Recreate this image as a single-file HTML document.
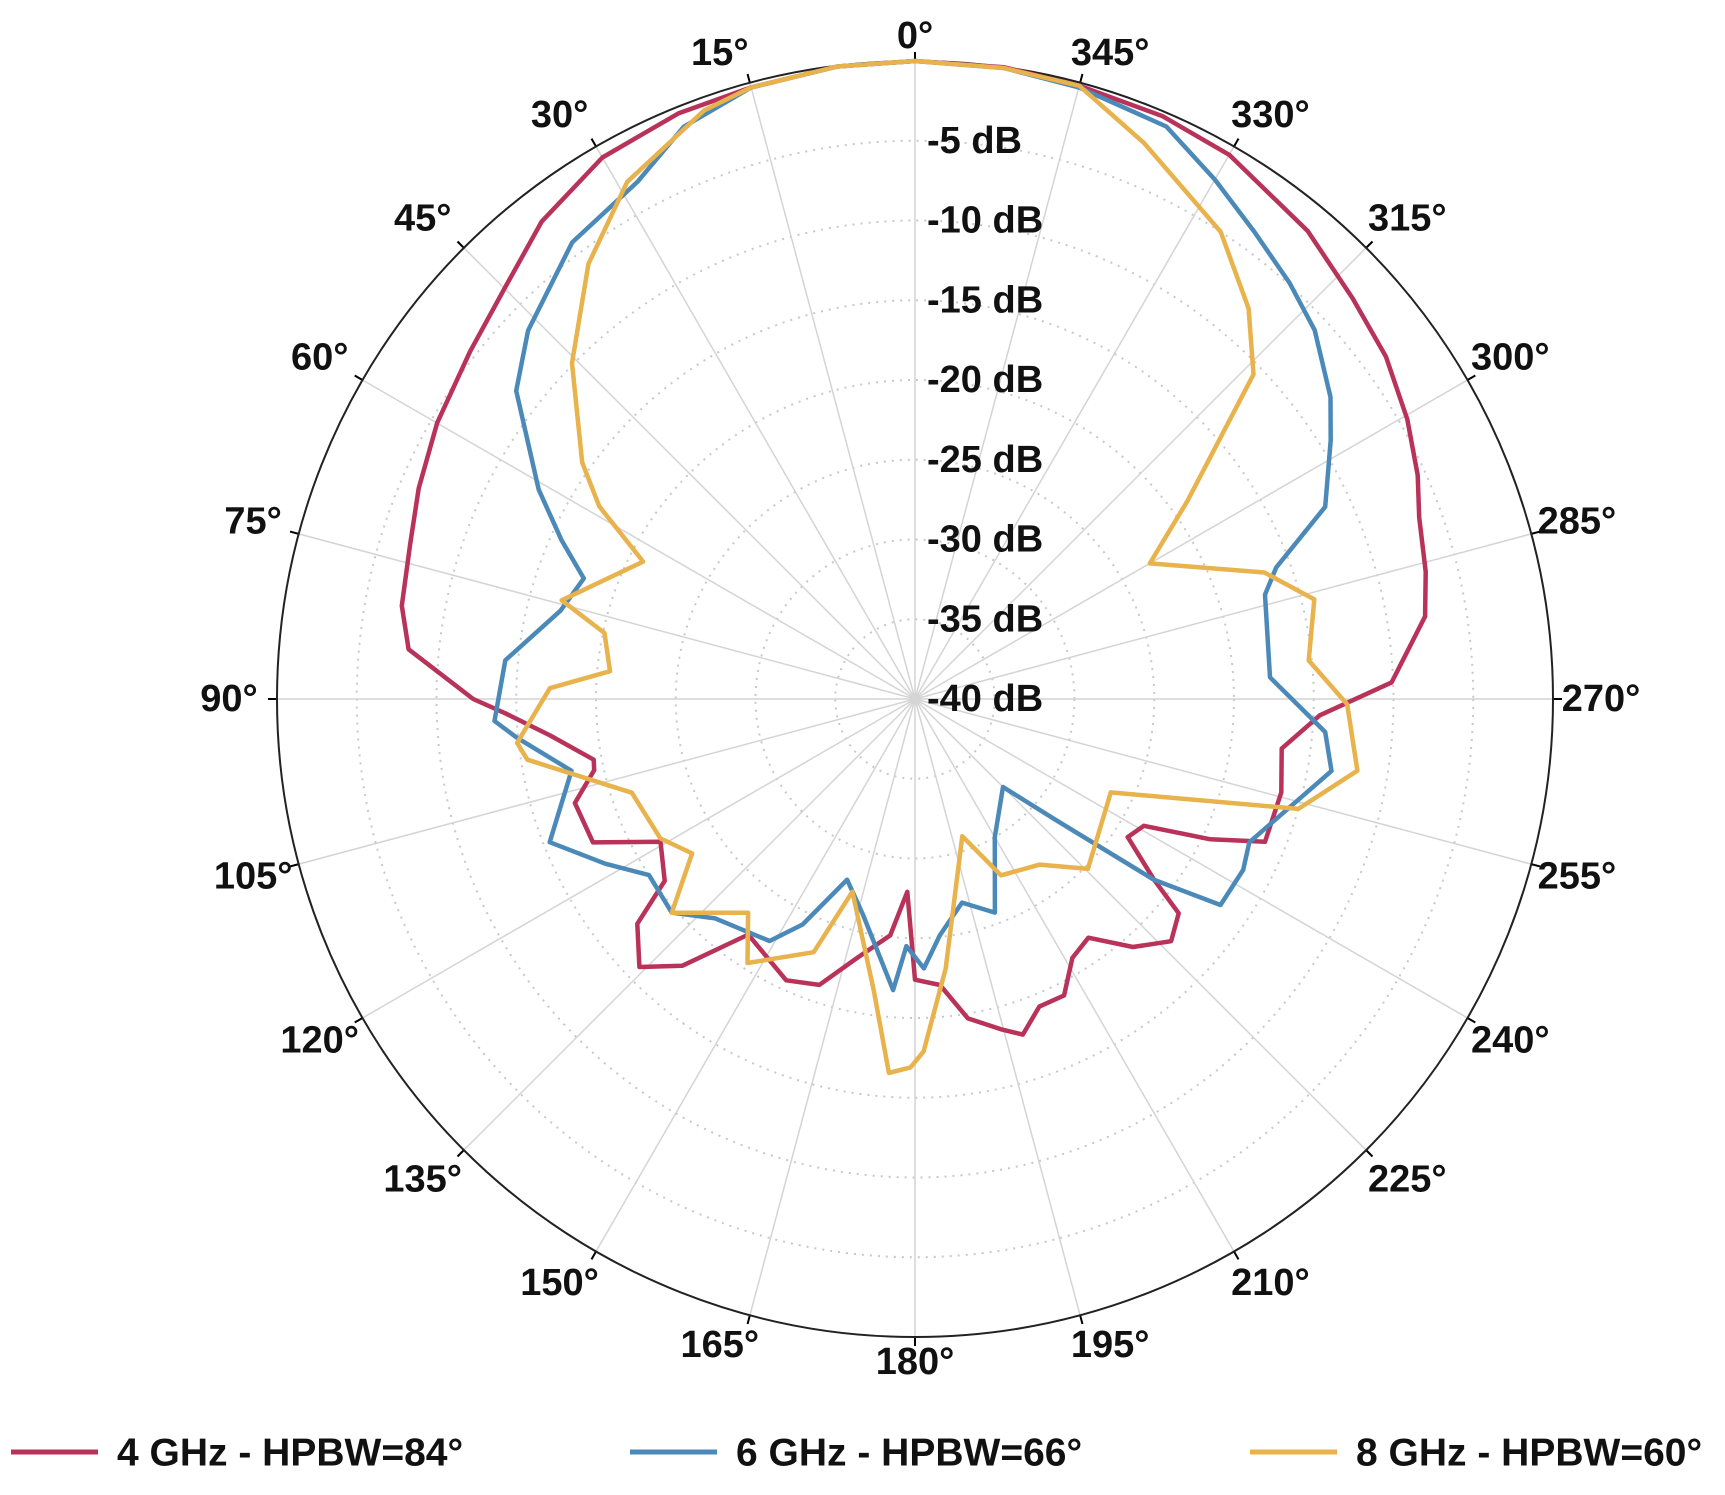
<!DOCTYPE html>
<html><head><meta charset="utf-8"><style>
body{margin:0;background:#fff;}
svg{display:block;font-family:"Liberation Sans",Arial,sans-serif;font-weight:bold;}
</style></head><body>
<svg id="chart" width="1725" height="1495" viewBox="0 0 1725 1495">
<g id="grid"></g>
<g id="series"></g>
<g id="labels"></g>
<g id="legend"></g>
</svg>
<script>
const rTicks = [-5,-10,-15,-20,-25,-30,-35,-40];
const rTickLabels = ["-5 dB","-10 dB","-15 dB","-20 dB","-25 dB","-30 dB","-35 dB","-40 dB"];
const angTicks = [0,15,30,45,60,75,90,105,120,135,150,165,180,195,210,225,240,255,270,285,300,315,330,345];
const seriesNames = ["4 GHz - HPBW=84°","6 GHz - HPBW=66°","8 GHz - HPBW=60°"];
const ang4 = [0,7,15,22,30,38,45,52,60,67,73,79.7,84.4,90,92,95.7,100.7,102.5,107,114,119.3,126,129,134.2,138.9,144.7,155.4,161.5,167.5,174,177.7,180,185,189.4,194.6,197.8,202,206.7,211.3,216,221.3,226.6,230.9,232.9,237,241,244.6,247.8,255.7,262.3,267.7,272,279.2,284,289.8,294,299.6,306,312.5,320,330,337,345,352,360];
const db4 = [0,-0.05,-0.3,-0.4,-0.8,-2,-3.6,-4.6,-5.4,-6.2,-6.9,-7.3,-8.1,-12.3,-14.3,-17,-19.5,-19.4,-17.7,-17.9,-21.7,-20.6,-17.6,-15.9,-17.8,-21.9,-20.6,-21.1,-23.4,-25.1,-27.9,-22.4,-22,-19.7,-18.6,-17.9,-19.2,-19.2,-21,-21.5,-19.3,-17.9,-18.7,-21.2,-24.1,-23.6,-19.5,-16.3,-16.3,-16.8,-14.6,-10.1,-7.6,-7,-6.4,-5.5,-4.5,-3.5,-2.8,-1.7,-0.6,-0.3,-0.2,0,0];
const ang6 = [0,7,15,22,28.2,36.9,46.4,52.3,60.9,65.8,70,76,84.6,93,95.5,101.8,111.4,118,123.5,131.3,137.7,149,153.5,159.4,166.4,175.7,178,181.9,186,193,200.5,210,225,229.3,232.9,236,242.5,246.8,260.2,265.4,273.5,286.6,290,295.1,301.9,306,312.7,318,324,330,336.3,345,352,360];
const db6 = [0,-0.05,-0.3,-1.3,-3.2,-4.2,-6.5,-8.4,-13,-15.7,-17.9,-17.1,-14.2,-13.6,-14.9,-18,-15.4,-18,-20,-19.7,-21.4,-22.3,-24.2,-27.9,-26.1,-21.7,-24.5,-23.1,-25.1,-26.9,-25.7,-30,-32.2,-28.4,-21.2,-16.9,-16.8,-17.2,-13.5,-14.2,-17.7,-17.1,-15.9,-11.6,-9.3,-7.8,-5.9,-4.9,-3.8,-2.4,-0.8,-0.3,-0.05,0];
const ang8 = [0,7,15,19.7,29.1,36.9,45.6,54.6,58.6,63.2,74.4,78,84.8,88.3,96.3,98.9,108.3,118.7,124.7,131.3,142,147.6,158.2,162,172,176,179.3,181.4,186.5,199,206,217,225.5,244.5,254,260.8,269.3,275.6,284,289.9,300,306,313.8,319.5,326.8,337.6,345,352,360];
const db8 = [0,-0.05,-0.3,-0.8,-2.9,-5.9,-9.9,-14.4,-16.8,-20.9,-17,-20.1,-20.8,-17.1,-14.9,-15.4,-21.3,-21.8,-23,-19.7,-23,-20.4,-22.9,-27.3,-21.5,-16.5,-16.9,-17.9,-23,-30.9,-27.7,-27,-24.8,-26.4,-15,-11.9,-12.9,-15.2,-14.2,-16.7,-23,-18.9,-10.6,-7.8,-5,-2.3,-0.2,-0.05,0];

const NS="http://www.w3.org/2000/svg";
const cx=915, cy=699, R=638;
function rScale(db){return (db+40)/40*R;}
function pt(a,db){const r=rScale(db),t=a*Math.PI/180;return [cx-r*Math.sin(t), cy-r*Math.cos(t)];}
function mk(tag,attrs,parent){const e=document.createElementNS(NS,tag);for(const k in attrs)e.setAttribute(k,attrs[k]);parent.appendChild(e);return e;}
const grid=document.getElementById('grid'), labels=document.getElementById('labels'), series=document.getElementById('series'), legend=document.getElementById('legend');

rTicks.forEach((d,i)=>{ if(d<=-40) return;
  const c=mk('circle',{cx:cx,cy:cy,r:rScale(d),fill:'none',stroke:'#c8c8c8','stroke-width':2,'stroke-dasharray':'2 6'},grid);
  
  
});
angTicks.forEach(a=>{
  const p=pt(a,0);
  const l=mk('line',{x1:cx,y1:cy,x2:p[0],y2:p[1],stroke:'#d4d4d4','stroke-width':1.5},grid);
  
  
  const t=a*Math.PI/180, s=Math.sin(t), co=Math.cos(t);
  const tk=mk('line',{x1:cx-R*s,y1:cy-R*co,x2:cx-(R+9)*s,y2:cy-(R+9)*co,stroke:'#000','stroke-width':2},grid);
  
  
  const off=R+25+23*Math.abs(s);
  const sg=Math.abs(s)<1e-6?0:Math.sign(s);
  const extra=sg*Math.max(0,Math.abs(co)-0.4)*39;
  const tx=mk('text',{x:cx-off*s-extra,y:cy-off*co,'text-anchor':'middle','dominant-baseline':'central','font-size':38,fill:'#111'},labels);
  tx.textContent=a+'°';
  
  
});
const oc=mk('circle',{cx:cx,cy:cy,r:R,fill:'none',stroke:'#222','stroke-width':2},grid);


rTicks.forEach((d,i)=>{
  const y=cy-rScale(d);
  const tx=mk('text',{x:cx+12,y:y,'dominant-baseline':'central','font-size':38,fill:'#111'},labels);
  tx.textContent=rTickLabels[i];
  
  
});

const colors=['#b8325a','#4b8ab8','#e8b24c'];
const data=[[ang4,db4],[ang6,db6],[ang8,db8]];
const keys=['4ghz','6ghz','8ghz'];
data.forEach((s,i)=>{
  const pts=s[0].map((a,j)=>pt(a,s[1][j]).map(v=>v.toFixed(1)).join(',')).join(' ');
  const pl=mk('polyline',{points:pts,fill:'none',stroke:colors[i],'stroke-width':4.5,'stroke-linejoin':'round'},series);
  
  
});

const lx=[11,630,1250];
seriesNames.forEach((n,i)=>{
  const g=mk('g',{},legend);
  
  
  mk('line',{x1:lx[i],y1:1452,x2:lx[i]+87,y2:1452,stroke:colors[i],'stroke-width':5},g);
  const t=mk('text',{x:lx[i]+106,y:1453,'dominant-baseline':'central','font-size':39,fill:'#111'},g);
  t.textContent=n;
});
</script>
</body></html>
